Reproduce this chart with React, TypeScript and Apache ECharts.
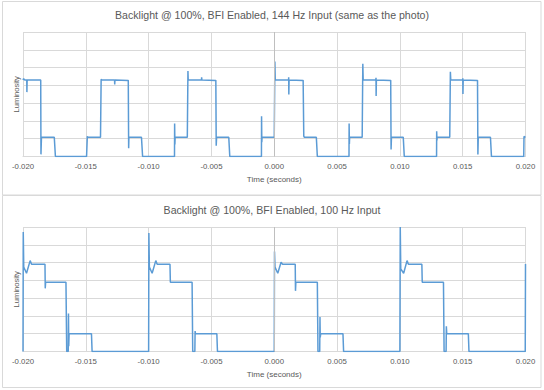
import React, { useEffect, useRef } from "react";
import * as echarts from "echarts";

const titles = [
  "Backlight @ 100%, BFI Enabled, 144 Hz Input (same as the photo)",
  "Backlight @ 100%, BFI Enabled, 100 Hz Input",
];
const xAxisName = "Time (seconds)";
const yAxisName = "Luminosity";

// 144 Hz trace
const t144 = [
  -0.02, -0.01995, -0.01986, -0.0197, -0.01969, -0.01967,
  -0.01859, -0.01857, -0.01853, -0.01751, -0.01742,
  -0.01494, -0.01488, -0.01485, -0.01383, -0.01378, -0.0137,
  -0.01271, -0.0127, -0.01268, -0.01162, -0.01159, -0.01157, -0.01057, -0.01048,
  -0.00794, -0.00793, -0.00791, -0.00789, -0.00692, -0.00687, -0.00685,
  -0.00579, -0.00578, -0.00576, -0.00465, -0.00462, -0.00459, -0.00362, -0.00354,
  -0.00102, -0.00101, -0.00099, -0.00097, 0.0, 0.00005, 0.00008,
  0.00114, 0.00115, 0.00116, 0.00118, 0.0023, 0.00235, 0.0024, 0.00335, 0.00343,
  0.00595, 0.00596, 0.00598, 0.006, 0.007, 0.00705, 0.00708,
  0.00809, 0.0081, 0.00811, 0.00813, 0.00927, 0.0093, 0.00933, 0.01027, 0.01035,
  0.01292, 0.01293, 0.01295, 0.01297, 0.01397, 0.01402, 0.01405,
  0.015, 0.01501, 0.01502, 0.01504, 0.01618, 0.01621, 0.01624, 0.01721, 0.01729,
  0.01986, 0.01988, 0.02,
];
const lum144 = [
  4.3, 4.38, 4.3, 4.3, 3.62, 4.3,
  4.3, 0.12, 1.08, 1.08, 0,
  0, 1.13, 1.08, 1.08, 4.34, 4.3,
  4.3, 4.05, 4.3, 4.28, 0.47, 1.08, 1.08, 0,
  0, 1.85, 0.68, 1.08, 1.08, 4.81, 4.3,
  4.3, 4.45, 4.3, 4.28, 0.6, 1.08, 1.08, 0,
  0, 2.26, 0.8, 1.08, 1.08, 5.34, 4.3,
  4.3, 4.45, 3.49, 4.3, 4.28, 1.15, 1.08, 1.08, 0,
  0, 1.85, 0.7, 1.08, 1.08, 5.21, 4.3,
  4.3, 4.43, 3.4, 4.3, 4.28, 0.4, 1.08, 1.08, 0,
  0, 1.42, 0.9, 1.08, 1.08, 4.77, 4.3,
  4.3, 4.4, 3.51, 4.3, 4.28, 0.11, 1.08, 1.08, 0,
  0, 1.13, 1.08,
];

// 100 Hz trace
const t100 = [
  -0.02, -0.01998, -0.01994, -0.01972, -0.01943, -0.01932, -0.01825, -0.01823, -0.0182,
  -0.01658, -0.01652, -0.0164, -0.01638, -0.01636, -0.01633, -0.01455, -0.0145,
  -0.01, -0.00998, -0.00994, -0.00972, -0.00943, -0.00932, -0.0083, -0.00827,
  -0.00654, -0.00649, -0.00632, -0.0063, -0.00627, -0.00457, -0.00452,
  0.0, 0.00002, 0.00006, 0.00028, 0.00054, 0.00066, 0.00167, 0.00169, 0.00172,
  0.00343, 0.00348, 0.00362, 0.00364, 0.00366, 0.0037, 0.00547, 0.00552,
  0.01, 0.01003, 0.01007, 0.0103, 0.01057, 0.01068, 0.01175, 0.01178,
  0.01347, 0.01352, 0.01368, 0.0137, 0.01373, 0.01545, 0.0155,
  0.01998, 0.02,
];
const lum100 = [
  0, 6.72, 4.75, 4.4, 5.11, 4.91, 4.91, 3.55, 3.89,
  3.89, 0, 0, 2.13, 0.3, 1.0, 1.0, 0,
  0, 6.66, 4.75, 4.4, 5.11, 4.91, 4.91, 3.89,
  3.89, 0, 0, 1.15, 1.0, 1.0, 0,
  0, 5.62, 4.75, 4.4, 5.02, 4.91, 4.91, 3.41, 3.89,
  3.89, 0, 0, 1.94, 0.8, 1.0, 1.0, 0,
  0, 7.0, 4.65, 4.4, 5.11, 4.91, 4.91, 3.89,
  3.89, 0, 0, 1.42, 1.0, 1.0, 0,
  0, 4.92,
];

const zip = (t: number[], v: number[]) => t.map((x, i) => [x, v[i]]);

const FONT = "'Liberation Sans', Arial, sans-serif";
const TEXT = "#595959";
const GRID = "#D9D9D9";
const LINE = "#5B9BD5";

export default function App() {
  const ref = useRef<HTMLDivElement>(null);
  useEffect(() => {
    document.body.style.margin = "0";
    if (!ref.current) return;
    const chart = echarts.init(ref.current, null, { renderer: "svg" });
    const gridTops = [32, 227];
    const xAxis = gridTops.map((_, i) => ({
      type: "value",
      gridIndex: i,
      min: -0.02,
      max: 0.02,
      interval: 0.005,
      axisLine: { show: true, lineStyle: { color: GRID } },
      axisTick: { show: false },
      splitLine: { show: true, lineStyle: { color: GRID, width: 1 } },
      axisLabel: {
        color: TEXT,
        fontFamily: FONT,
        fontSize: 7.8,
        margin: 6,
        formatter: (v: number) => (Math.abs(v) < 1e-9 ? "0.000" : v.toFixed(3)),
      },
      name: xAxisName,
      nameLocation: "middle",
      nameGap: 19,
      nameTextStyle: { color: TEXT, fontFamily: FONT, fontSize: 8 },
    }));
    const yAxis = gridTops.map((_, i) => ({
      type: "value",
      gridIndex: i,
      min: 0,
      max: 7,
      interval: 1,
      axisLine: { show: false },
      axisTick: { show: false },
      axisLabel: { show: false },
      splitLine: { show: true, lineStyle: { color: GRID, width: 1 } },
      name: yAxisName,
      nameLocation: "middle",
      nameRotate: 90,
      nameGap: 3,
      nameTextStyle: { color: TEXT, fontFamily: FONT, fontSize: 7.6 },
    }));
    const mk = {
      silent: true,
      symbol: "none",
      label: { show: false },
      lineStyle: { color: "#BFBFBF", width: 1, type: "solid" },
      data: [{ xAxis: 0 }],
    };
    chart.setOption({
      animation: false,
      backgroundColor: "#ffffff",
      title: titles.map((text, i) => ({
        text,
        left: "center",
        top: i === 0 ? 4 : 199,
        textStyle: { color: TEXT, fontFamily: FONT, fontSize: 10.6, fontWeight: "normal" },
      })),
      grid: gridTops.map((top) => ({ left: 23, right: 18.5, top, height: 124.5 })),
      xAxis,
      yAxis,
      graphic: [
        { type: "rect", silent: true, shape: { x: 2.5, y: 1.5, width: 538.5, height: 193.5 }, style: { fill: "none", stroke: GRID, lineWidth: 1 } },
        { type: "rect", silent: true, shape: { x: 2.5, y: 195.5, width: 538.5, height: 192 }, style: { fill: "none", stroke: GRID, lineWidth: 1 } },
      ],
      series: [
        {
          type: "line",
          xAxisIndex: 0,
          yAxisIndex: 0,
          data: zip(t144, lum144),
          showSymbol: false,
          symbol: "none",
          lineStyle: { color: LINE, width: 1.5 },
          itemStyle: { color: LINE },
          markLine: mk,
        },
        {
          type: "line",
          xAxisIndex: 1,
          yAxisIndex: 1,
          data: zip(t100, lum100),
          showSymbol: false,
          symbol: "none",
          lineStyle: { color: LINE, width: 1.5 },
          itemStyle: { color: LINE },
          markLine: mk,
        },
      ],
    });
    return () => chart.dispose();
  }, []);
  return (
    <div
      ref={ref}
      style={{ position: "absolute", left: 0, top: 0, width: 544, height: 390 }}
    />
  );
}
